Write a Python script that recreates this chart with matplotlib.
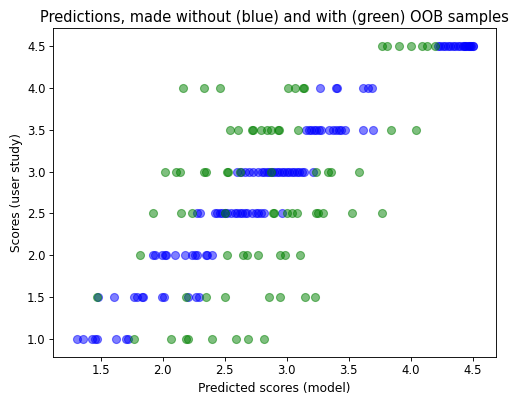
import numpy as np
import matplotlib
matplotlib.use('Agg')
import matplotlib.pyplot as plt

# predictions made without OOB samples (blue)
blue_10 = [1.31, 1.36, 1.43, 1.45, 1.47, 1.62, 1.70, 1.72]
blue_15 = [1.48, 1.61, 1.77, 1.79, 1.83, 1.84, 1.99, 2.01, 2.20, 2.27, 2.29]
blue_20 = [1.92, 1.94, 1.99, 2.02, 2.03, 2.10, 2.18, 2.24, 2.26, 2.28, 2.35, 2.36, 2.40]
blue_25 = [2.28, 2.30, 2.42, 2.44, 2.46, 2.48, 2.50, 2.52, 2.55, 2.58, 2.60, 2.62,
           2.64, 2.66, 2.68, 2.72, 2.75, 2.77, 2.79, 2.82, 2.96]
blue_30 = [2.60, 2.63, 2.66, 2.70, 2.73, 2.77, 2.80, 2.82, 2.84, 2.86, 2.88, 2.90,
           2.92, 2.94, 2.96, 2.98, 3.00, 3.02, 3.04, 3.06, 3.08, 3.10, 3.12, 3.14, 3.21]
blue_35 = [3.16, 3.18, 3.20, 3.22, 3.24, 3.26, 3.28, 3.34, 3.37, 3.40, 3.42, 3.44,
           3.47, 3.62, 3.70]
blue_40 = [3.27, 3.40, 3.41, 3.62, 3.66, 3.69]
blue_45 = [4.22, 4.24, 4.26, 4.28, 4.30, 4.32, 4.34, 4.36, 4.38, 4.40, 4.42, 4.43,
           4.44, 4.45, 4.46, 4.47, 4.48, 4.49, 4.50, 4.50]

# predictions made with OOB samples (green)
green_10 = [1.77, 2.07, 2.19, 2.20, 2.40, 2.59, 2.69, 2.82]
green_15 = [1.47, 2.19, 2.35, 2.50, 2.86, 2.95, 3.15, 3.23]
green_20 = [1.82, 2.52, 2.65, 2.68, 2.77, 2.95, 2.99, 3.11]
green_25 = [1.92, 2.15, 2.24, 2.50, 2.89, 2.90, 3.00, 3.04, 3.08, 3.24, 3.25,
            3.29, 3.53, 3.77]
green_30 = [2.02, 2.11, 2.14, 2.33, 2.35, 2.52, 2.53, 2.62, 2.87, 3.24, 3.33,
            3.36, 3.58]
green_35 = [2.54, 2.61, 2.72, 2.73, 2.79, 2.84, 2.87, 2.93, 2.94, 3.09, 3.84, 4.04]
green_40 = [2.16, 2.33, 2.46, 3.01, 3.07, 3.13, 3.14]
green_45 = [3.77, 3.81, 3.91, 4.00, 4.09, 4.13, 4.20]

levels = [1.0, 1.5, 2.0, 2.5, 3.0, 3.5, 4.0, 4.5]
blue_rows = [blue_10, blue_15, blue_20, blue_25, blue_30, blue_35, blue_40, blue_45]
green_rows = [green_10, green_15, green_20, green_25, green_30, green_35, green_40, green_45]

def flatten(rows):
    x = np.concatenate([np.array(r) for r in rows])
    y = np.concatenate([np.full(len(r), lv) for r, lv in zip(rows, levels)])
    return x, y

bx, by = flatten(blue_rows)
gx, gy = flatten(green_rows)

fig = plt.figure(figsize=(513 / 80, 394 / 80), dpi=80)
ax = fig.add_axes([0.104, 0.095, 0.863, 0.833])
ax.scatter(bx, by, s=52, c='b', alpha=0.5)
ax.scatter(gx, gy, s=52, c='g', alpha=0.5)
ax.set_xlim(1.117, 4.69)
ax.set_ylim(0.79, 4.71)
ax.tick_params(labelsize=10.5)
ax.set_title('Predictions, made without (blue) and with (green) OOB samples', fontsize=13.2)
ax.set_xlabel('Predicted scores (model)', fontsize=11)
ax.set_ylabel('Scores (user study)', fontsize=11)

plt.savefig('out.png', dpi=80)
